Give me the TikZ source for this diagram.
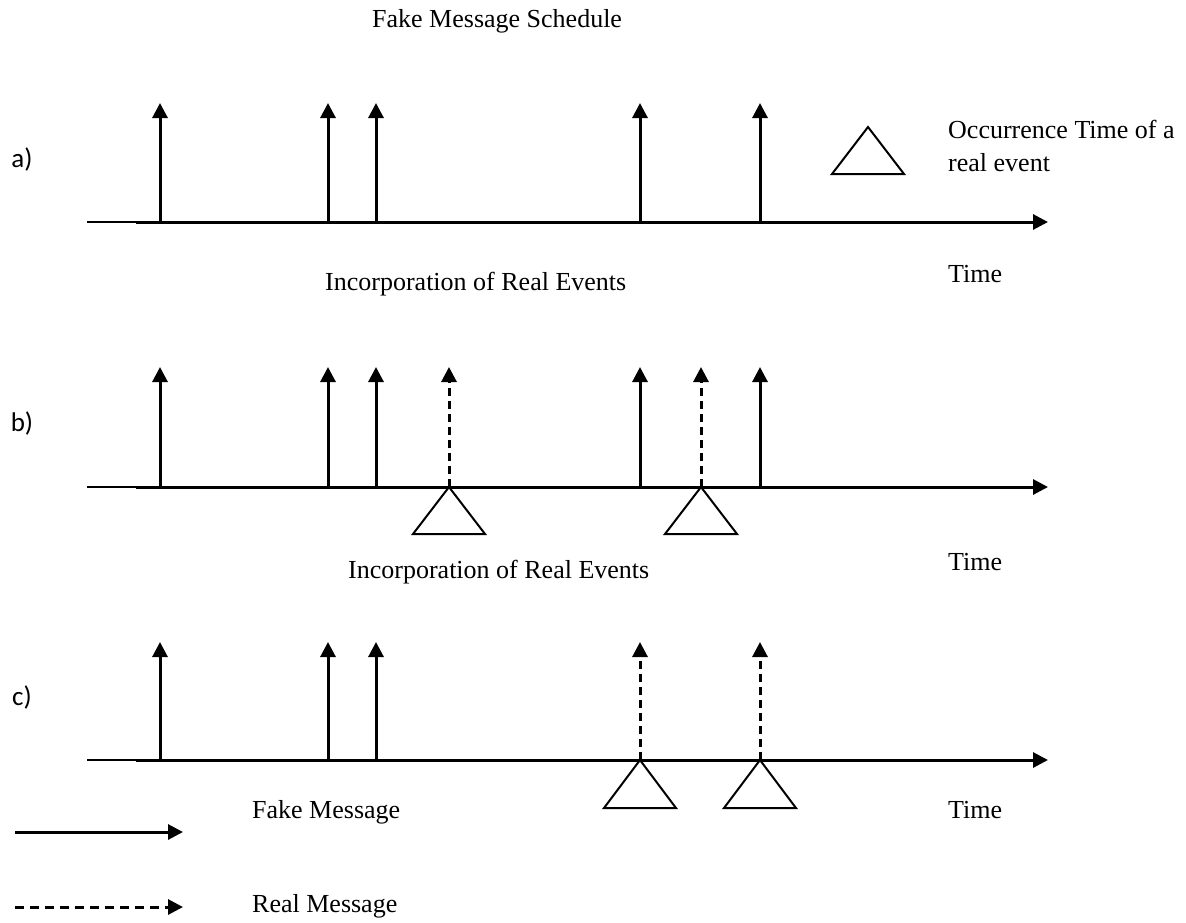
\documentclass[tikz,border=0pt]{standalone}
\usepackage{fontspec}
\setmainfont{Liberation Serif}
\newfontfamily\partfont{Carlito}
\usetikzlibrary{arrows.meta}

\tikzset{
  tip/.style={-{Triangle[width=15pt,length=15pt]}},
  fakemsg/.style={line width=3pt, tip},
  realmsg/.style={line width=3pt, tip, dash pattern=on 8pt off 5pt},
  timeaxis/.style={line width=3pt, tip},
  lead/.style={line width=1.5pt},
  event/.style={line width=2pt, line join=miter},
  txt/.style={anchor=base west, inner sep=0pt, font=\fontsize{26}{30}\selectfont},
  part/.style={inner sep=0pt, font=\partfont\fontsize{27}{30}\selectfont}
}

\begin{document}
\begin{tikzpicture}[x=1pt, y=-1pt]
\useasboundingbox (0,0) rectangle (1186,922);

\node[txt] (title) at (372,27) {Fake Message Schedule};

% a)
\node[part] (pa) at (22,159) {a)};
\coordinate (a0) at (87,222);
\coordinate (a1) at (136,222);
\coordinate (aend) at (1048,222);
\draw[lead] (a0) -- (a1);
\draw[timeaxis] (a1) -- (aend);
\foreach \x [count=\i] in {160,328,376,640,760} {
  \coordinate (af\i) at (\x,222);
  \coordinate (aft\i) at (\x,103);
  \draw[fakemsg] (af\i) -- (aft\i);
}
\coordinate (key) at (868,127);
\draw[event] (key) -- ++(-36,47) -- ++(72,0) -- cycle;
\node[txt] (occ1) at (948,138) {Occurrence Time of a};
\node[txt] (occ2) at (948,171) {real event};
\node[txt] (timea) at (948,282) {Time};
\node[txt] (inca) at (325,290) {Incorporation of Real Events};

% b)
\node[part] (pb) at (22,423) {b)};
\coordinate (b0) at (87,487);
\coordinate (b1) at (136,487);
\coordinate (bend) at (1048,487);
\draw[lead] (b0) -- (b1);
\foreach \x [count=\i] in {449,701} {
  \coordinate (br\i) at (\x,487);
  \coordinate (brt\i) at (\x,367);
  \draw[event] (br\i) -- ++(-36,47) -- ++(72,0) -- cycle;
  \draw[realmsg] (br\i) -- (brt\i);
}
\draw[timeaxis] (b1) -- (bend);
\foreach \x [count=\i] in {160,328,376,640,760} {
  \coordinate (bf\i) at (\x,487);
  \coordinate (bft\i) at (\x,367);
  \draw[fakemsg] (bf\i) -- (bft\i);
}
\node[txt] (timeb) at (948,570) {Time};
\node[txt] (incb) at (348,578) {Incorporation of Real Events};

% c)
\node[part] (pc) at (22,697) {c)};
\coordinate (c0) at (87,760);
\coordinate (c1) at (136,760);
\coordinate (cend) at (1048,760);
\draw[lead] (c0) -- (c1);
\foreach \x [count=\i] in {640,760} {
  \coordinate (cr\i) at (\x,760);
  \coordinate (crt\i) at (\x,642);
  \draw[event] (cr\i) -- ++(-36,48) -- ++(72,0) -- cycle;
  \draw[realmsg] (cr\i) -- (crt\i);
}
\draw[timeaxis] (c1) -- (cend);
\foreach \x [count=\i] in {160,328,376} {
  \coordinate (cf\i) at (\x,760);
  \coordinate (cft\i) at (\x,642);
  \draw[fakemsg] (cf\i) -- (cft\i);
}
\node[txt] (timec) at (948,818) {Time};

% legend
\coordinate (kf0) at (15,832);
\coordinate (kf1) at (183,832);
\coordinate (kr0) at (15,907);
\coordinate (kr1) at (183,907);
\draw[fakemsg] (kf0) -- (kf1);
\draw[realmsg, dash pattern=on 9pt off 6pt] (kr0) -- (kr1);
\node[txt] (fake) at (252,818) {Fake Message};
\node[txt] (real) at (252,912) {Real Message};
\end{tikzpicture}
\end{document}
